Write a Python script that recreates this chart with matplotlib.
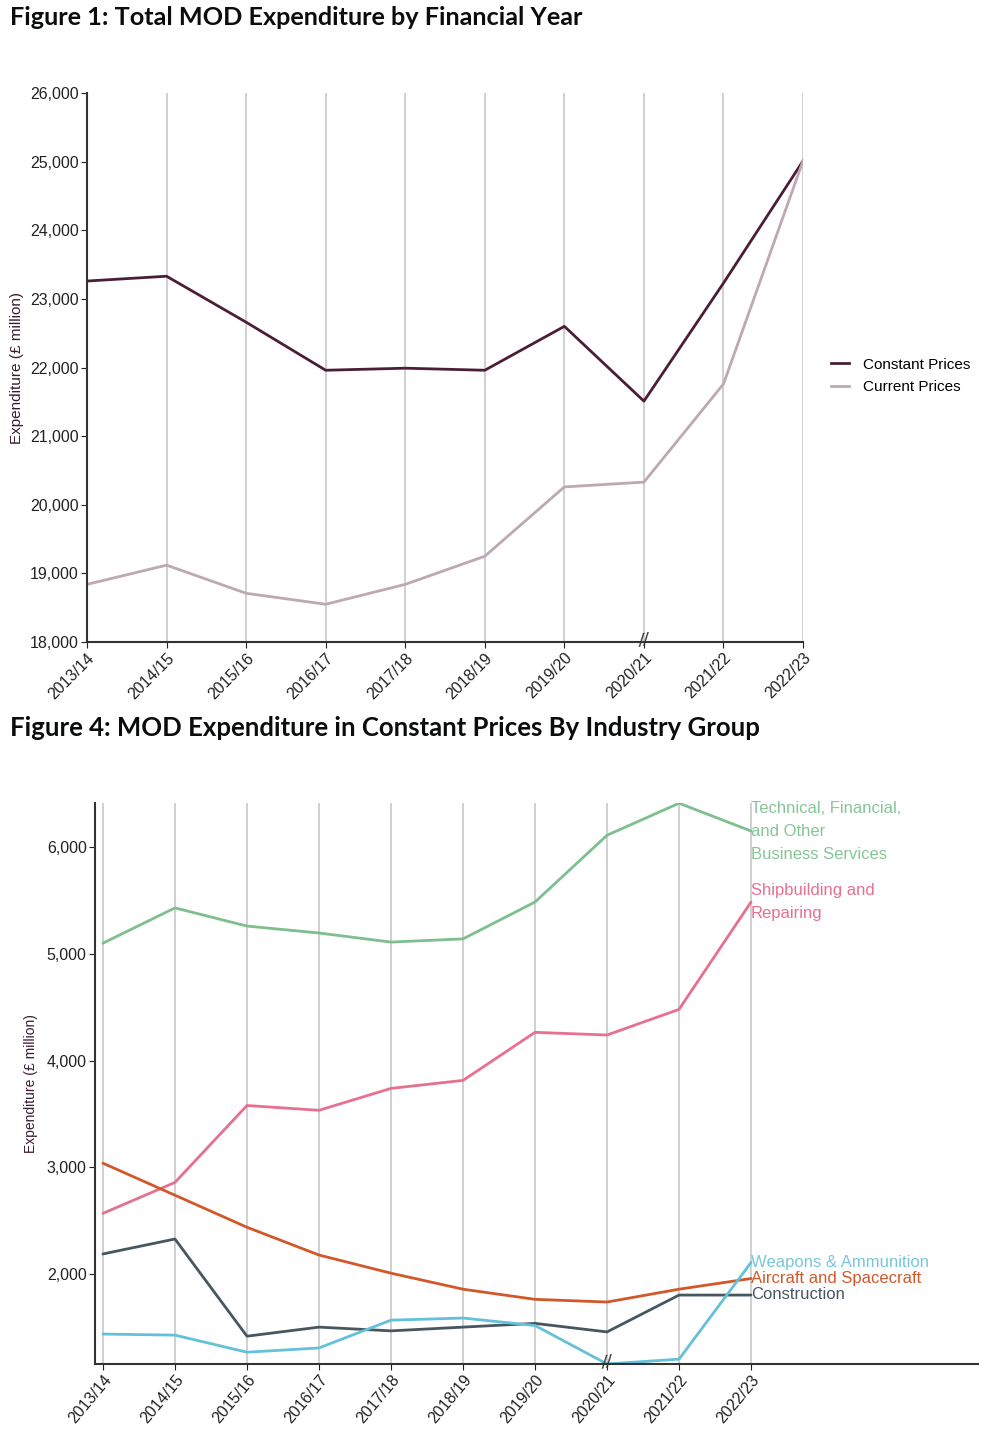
import matplotlib.pyplot as plt
from matplotlib.ticker import FuncFormatter

years = ['2013/14', '2014/15', '2015/16', '2016/17', '2017/18',
         '2018/19', '2019/20', '2020/21', '2021/22', '2022/23']

# Figure 1 (GBP million)
constant_prices = [23260, 23330, 22660, 21960, 21990, 21960, 22600, 21510, 23230, 25010]
current_prices = [18840, 19120, 18710, 18550, 18840, 19250, 20260, 20330, 21760, 25010]

# Figure 4 (GBP million, constant prices)
technical = [5100, 5430, 5260, 5195, 5110, 5140, 5485, 6110, 6410, 6150]
shipbuilding = [2570, 2860, 3580, 3535, 3740, 3815, 4265, 4240, 4480, 5485]
aircraft = [3040, 2740, 2440, 2180, 2010, 1860, 1765, 1740, 1860, 1960]
construction = [2190, 2330, 1420, 1505, 1470, 1505, 1540, 1460, 1805, 1805]
weapons = [1440, 1430, 1270, 1310, 1570, 1590, 1520, 1160, 1205, 2110]

plt.rcParams['font.family'] = ['Liberation Sans', 'DejaVu Sans']

fig = plt.figure(figsize=(9.81, 14.35), dpi=100)
x = list(range(len(years)))
thousands = FuncFormatter(lambda v, p: f'{int(v):,}')
grid_col = '#c8c8c8'
spine_col = '#333333'

# ---- Figure 1 ----
fig.text(0.010, 0.988, 'Figure 1: Total MOD Expenditure by Financial Year',
         fontsize=18.2, fontweight='bold', family=['Lato', 'DejaVu Sans'],
         va='center', ha='left', color='#0b0c0c')
ax1 = fig.add_axes([0.0887, 0.5526, 0.7299, 0.3826])
for xi in x:
    ax1.axvline(xi, color=grid_col, lw=1.2, zorder=0)
ax1.plot(x, constant_prices, color='#4b1e36', lw=2, label='Constant Prices')
ax1.plot(x, current_prices, color='#bda8b3', lw=2, label='Current Prices')
ax1.set_xlim(0, 9)
ax1.set_ylim(18000, 26000)
ax1.set_yticks(range(18000, 26001, 1000))
ax1.yaxis.set_major_formatter(thousands)
ax1.set_xticks(x)
ax1.set_xticklabels(years, rotation=45, ha='right', rotation_mode='anchor')
ax1.tick_params(labelsize=11.5, colors='#222222', length=4, pad=2)
for s in ['top', 'right']:
    ax1.spines[s].set_visible(False)
for s in ['left', 'bottom']:
    ax1.spines[s].set_color(spine_col)
    ax1.spines[s].set_linewidth(1.5)
ax1.set_ylabel('Expenditure (£ million)', fontsize=11, color='#3a1a2e', labelpad=4)
ax1.text(7, 18000, '//', fontsize=14, color='#333333', ha='center', va='center',
         rotation=10, fontstyle='italic')
ax1.legend(loc='center left', bbox_to_anchor=(1.02, 0.485), frameon=False,
           fontsize=11, handlelength=1.2, handletextpad=0.9, labelspacing=0.55)

# ---- Figure 4 ----
fig.text(0.010, 0.493, 'Figure 4: MOD Expenditure in Constant Prices By Industry Group',
         fontsize=18.5, fontweight='bold', family=['Lato', 'DejaVu Sans'],
         va='center', ha='left', color='#0b0c0c')
ax2 = fig.add_axes([0.0968, 0.0495, 0.900, 0.3909])
for xi in x:
    ax2.axvline(xi, color=grid_col, lw=1.2, zorder=0)
series = [
    (technical, '#7dbf8e'),
    (shipbuilding, '#e7708f'),
    (aircraft, '#d2582a'),
    (construction, '#47575f'),
    (weapons, '#63c1da'),
]
for vals, col in series:
    ax2.plot(x, vals, color=col, lw=2, solid_capstyle='round')
ax2.set_xlim(-0.111, 12.15)
ax2.set_ylim(1160, 6412)
ax2.set_yticks([2000, 3000, 4000, 5000, 6000])
ax2.yaxis.set_major_formatter(thousands)
ax2.set_xticks(x)
ax2.set_xticklabels(years, rotation=50, ha='right', rotation_mode='anchor')
ax2.tick_params(labelsize=11.5, colors='#222222', length=4, pad=2)
for s in ['top', 'right']:
    ax2.spines[s].set_visible(False)
for s in ['left', 'bottom']:
    ax2.spines[s].set_color(spine_col)
    ax2.spines[s].set_linewidth(1.5)
ax2.set_ylabel('Expenditure (£ million)', fontsize=10, color='#3a1a2e', labelpad=6)
ax2.text(7, 1160, '//', fontsize=14, color='#333333', ha='center', va='center',
         rotation=10, fontstyle='italic')

lab_kw = dict(fontsize=12, ha='left')
ax2.text(9.0, 6430, 'Technical, Financial,\nand Other\nBusiness Services',
         color='#86c598', va='top', linespacing=1.65, **lab_kw)
ax2.text(9.0, 5660, 'Shipbuilding and\nRepairing',
         color='#e7708f', va='top', linespacing=1.65, **lab_kw)
ax2.text(9.0, 2110, 'Weapons & Ammunition', color='#79c6db', va='center', **lab_kw)
ax2.text(9.0, 1960, 'Aircraft and Spacecraft', color='#d2582a', va='center', **lab_kw)
ax2.text(9.0, 1810, 'Construction', color='#47575f', va='center', **lab_kw)

fig.savefig('out.png', dpi=100)
